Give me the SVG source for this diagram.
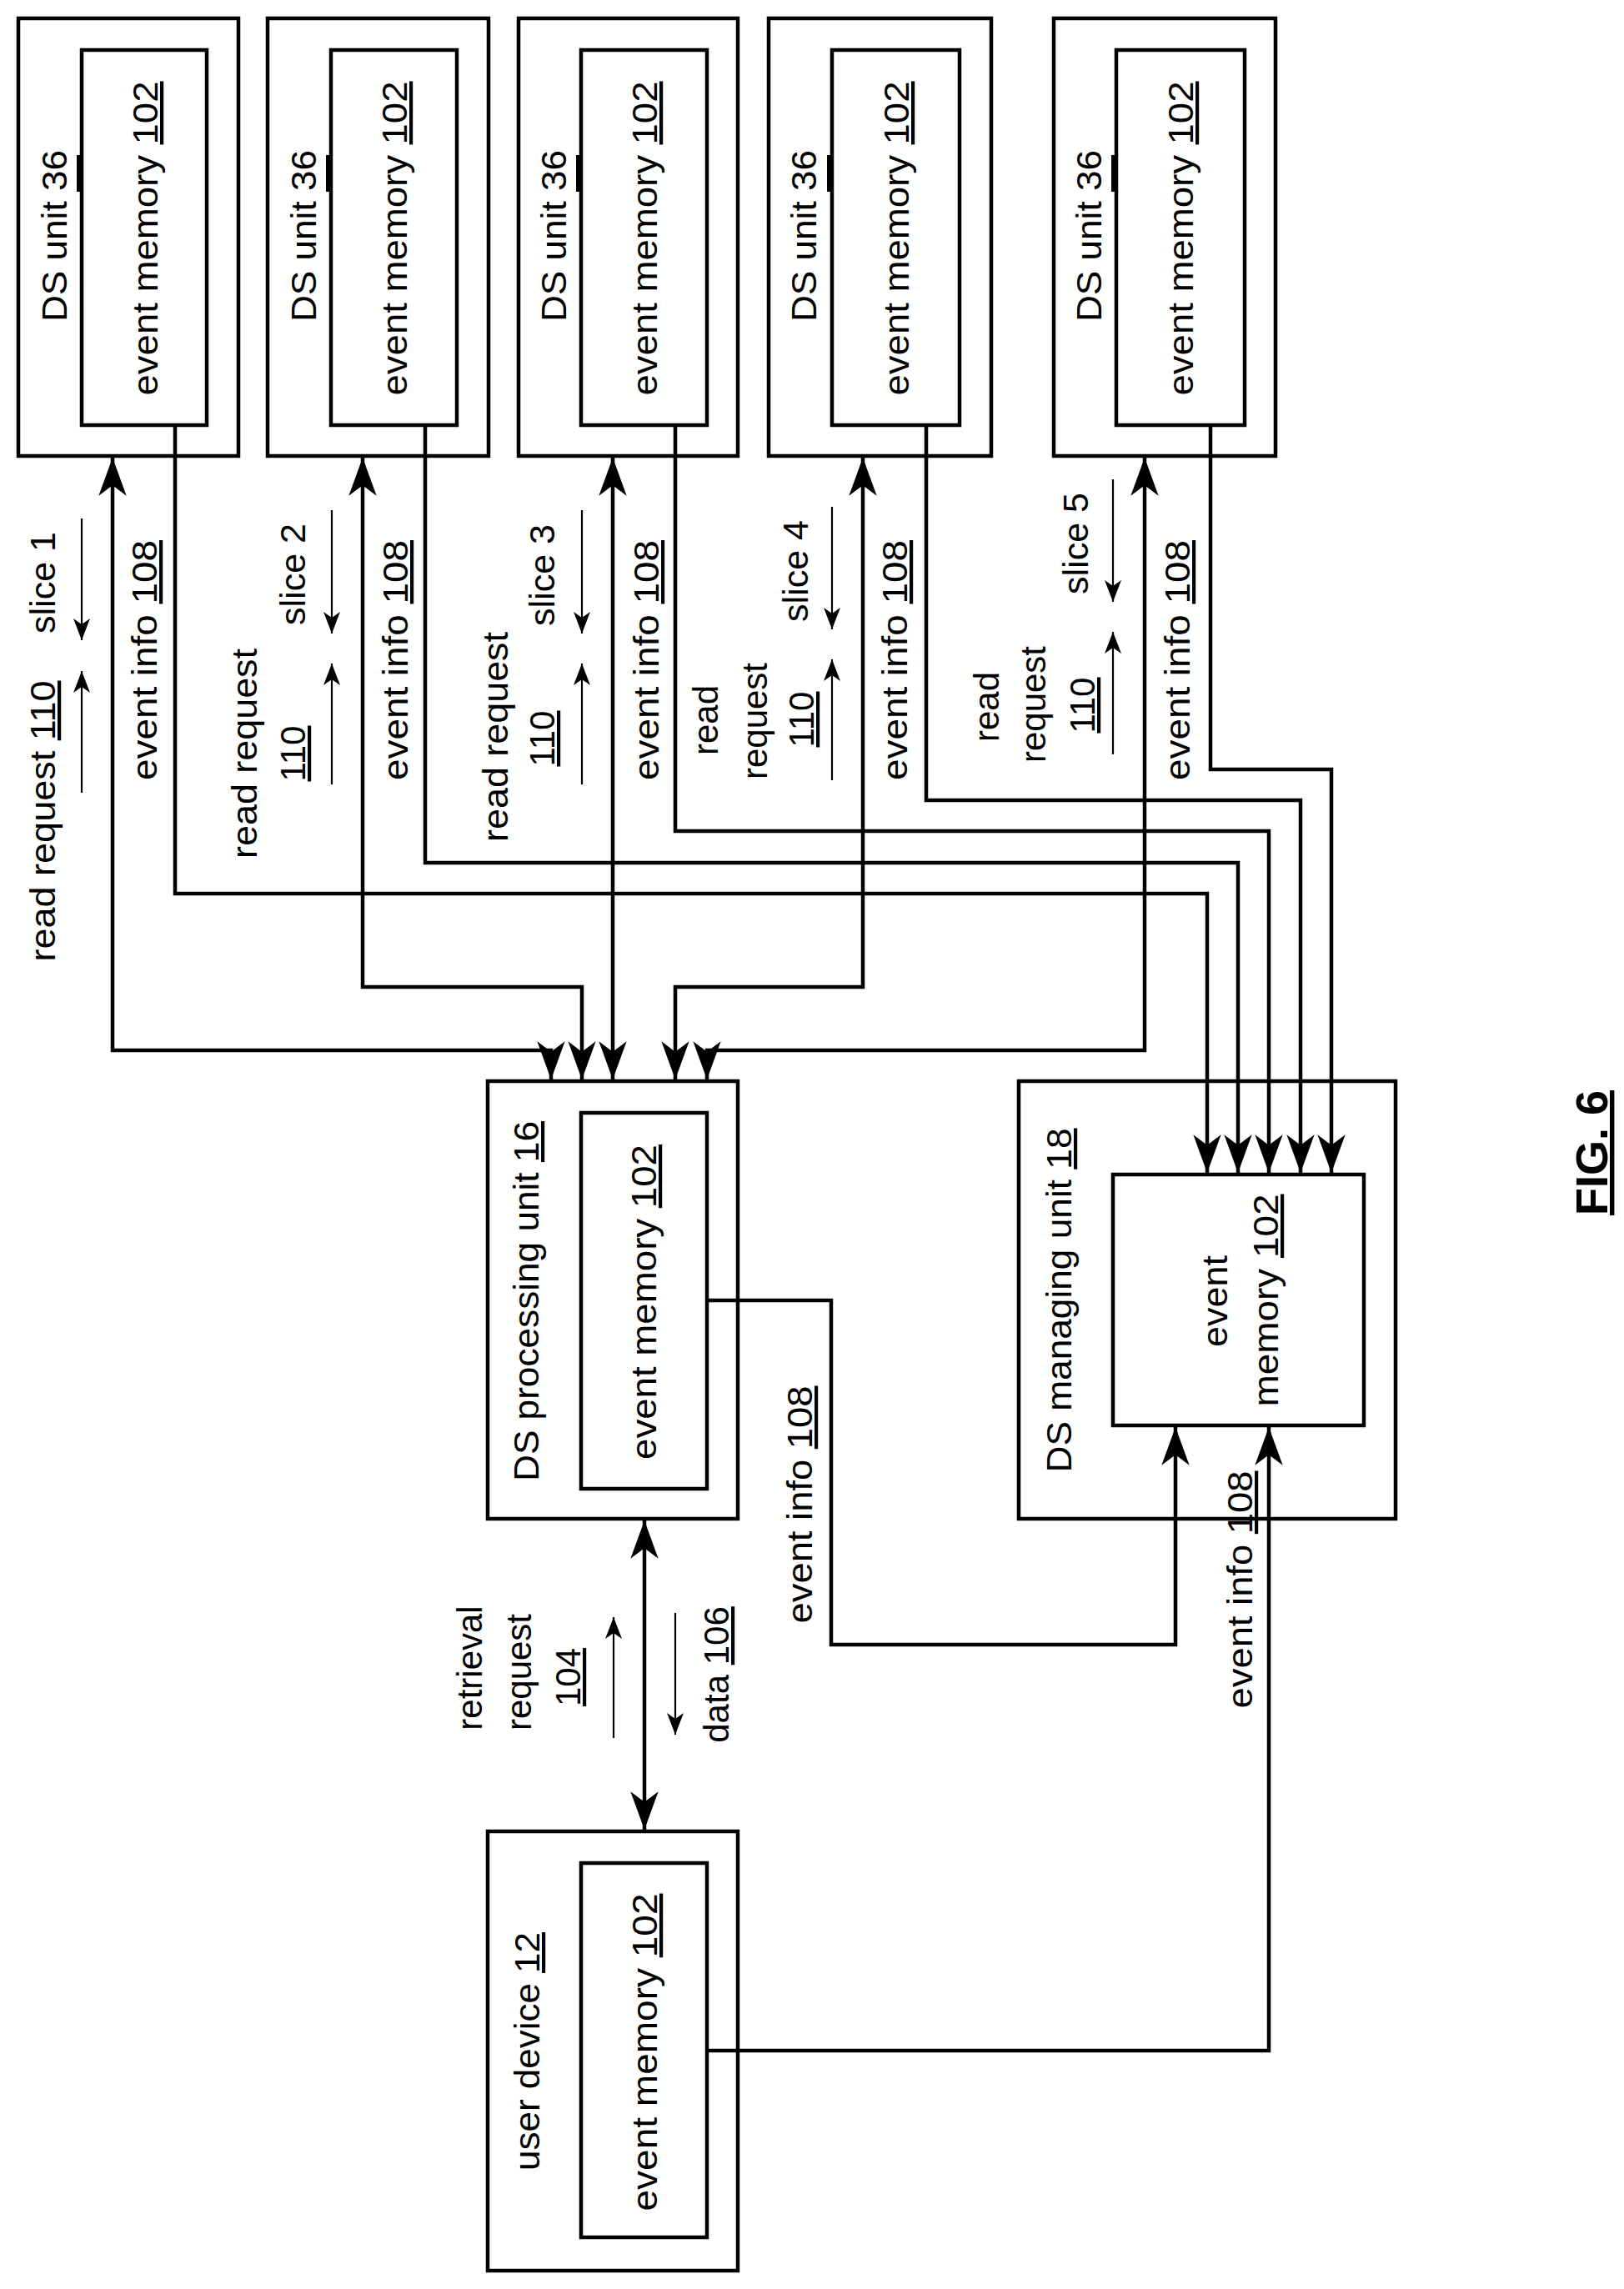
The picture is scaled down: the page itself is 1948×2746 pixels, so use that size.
<svg xmlns="http://www.w3.org/2000/svg" width="1948" height="2746" viewBox="0 0 1948 2746">
<defs>
<style>
.box{fill:none;stroke:#000;stroke-width:4.5}
.ln{fill:none;stroke:#000;stroke-width:4.5}
.thin{fill:none;stroke:#000;stroke-width:2.2}
text{font-family:"Liberation Sans","Open Sans",sans-serif;font-size:42px;fill:#000;text-anchor:middle}
.u{text-decoration:underline}
</style>
<marker id="ah" markerUnits="userSpaceOnUse" markerWidth="50" markerHeight="40" viewBox="-46 -18 48 36" refX="0" refY="0" orient="auto-start-reverse">
<path d="M0,0 L-44,-16 L-32,0 L-44,16 Z" fill="#000"/>
</marker>
<marker id="sh" markerUnits="userSpaceOnUse" markerWidth="30" markerHeight="24" viewBox="-28 -12 30 24" refX="0" refY="0" orient="auto">
<path d="M0,0 L-26,-10 L-19,0 L-26,10 Z" fill="#000"/>
</marker>
</defs>
<rect width="1948" height="2746" fill="#fff"/>

<g id="ds1">
<rect class="box" x="22" y="22" width="264" height="525"/>
<rect class="box" x="98" y="60" width="150" height="450"/>
<rect x="92" y="186" width="6" height="44" fill="#000"/>
<text transform="translate(80,283) rotate(-90)" textLength="206" lengthAdjust="spacingAndGlyphs">DS unit 36</text>
<text transform="translate(189,286) rotate(-90)" textLength="377" lengthAdjust="spacingAndGlyphs">event memory <tspan class="u">102</tspan></text>
</g>
<g id="ds2">
<rect class="box" x="321" y="22" width="265" height="525"/>
<rect class="box" x="397" y="60" width="151" height="450"/>
<rect x="391" y="186" width="6" height="44" fill="#000"/>
<text transform="translate(379,283) rotate(-90)" textLength="206" lengthAdjust="spacingAndGlyphs">DS unit 36</text>
<text transform="translate(488,286) rotate(-90)" textLength="377" lengthAdjust="spacingAndGlyphs">event memory <tspan class="u">102</tspan></text>
</g>
<g id="ds3">
<rect class="box" x="622" y="22" width="263" height="525"/>
<rect class="box" x="697" y="60" width="151" height="450"/>
<rect x="691" y="186" width="6" height="44" fill="#000"/>
<text transform="translate(679,283) rotate(-90)" textLength="206" lengthAdjust="spacingAndGlyphs">DS unit 36</text>
<text transform="translate(788,286) rotate(-90)" textLength="377" lengthAdjust="spacingAndGlyphs">event memory <tspan class="u">102</tspan></text>
</g>
<g id="ds4">
<rect class="box" x="922" y="22" width="267" height="525"/>
<rect class="box" x="998" y="60" width="153" height="450"/>
<rect x="992" y="186" width="6" height="44" fill="#000"/>
<text transform="translate(979,283) rotate(-90)" textLength="206" lengthAdjust="spacingAndGlyphs">DS unit 36</text>
<text transform="translate(1090,286) rotate(-90)" textLength="377" lengthAdjust="spacingAndGlyphs">event memory <tspan class="u">102</tspan></text>
</g>
<g id="ds5">
<rect class="box" x="1264" y="22" width="266" height="525"/>
<rect class="box" x="1339" y="60" width="154" height="450"/>
<rect x="1333" y="186" width="6" height="44" fill="#000"/>
<text transform="translate(1321,283) rotate(-90)" textLength="206" lengthAdjust="spacingAndGlyphs">DS unit 36</text>
<text transform="translate(1431,286) rotate(-90)" textLength="377" lengthAdjust="spacingAndGlyphs">event memory <tspan class="u">102</tspan></text>
</g>

<g id="processing">
<rect class="box" x="585" y="1297" width="300" height="525"/>
<rect class="box" x="697" y="1335" width="151" height="451"/>
<text transform="translate(646,1561) rotate(-90)" textLength="432" lengthAdjust="spacingAndGlyphs">DS processing unit <tspan class="u">16</tspan></text>
<text transform="translate(787,1562) rotate(-90)" textLength="378" lengthAdjust="spacingAndGlyphs">event memory <tspan class="u">102</tspan></text>
</g>
<g id="managing">
<rect class="box" x="1222" y="1297" width="452" height="525"/>
<rect class="box" x="1335" y="1409" width="301" height="301"/>
<text transform="translate(1285,1560) rotate(-90)" textLength="413" lengthAdjust="spacingAndGlyphs">DS managing unit <tspan class="u">18</tspan></text>
<text transform="translate(1472,1561) rotate(-90)" textLength="110" lengthAdjust="spacingAndGlyphs">event</text>
<text transform="translate(1533,1560) rotate(-90)" textLength="255" lengthAdjust="spacingAndGlyphs">memory <tspan class="u">102</tspan></text>
</g>
<g id="user">
<rect class="box" x="585" y="2197" width="300" height="527"/>
<rect class="box" x="697" y="2235" width="151" height="449"/>
<text transform="translate(647,2461) rotate(-90)" textLength="286" lengthAdjust="spacingAndGlyphs">user device <tspan class="u">12</tspan></text>
<text transform="translate(788,2462) rotate(-90)" textLength="381" lengthAdjust="spacingAndGlyphs">event memory <tspan class="u">102</tspan></text>
</g>

<g id="connectors">
<polyline class="ln" points="135,549 135,1260 661,1260 661,1295" marker-start="url(#ah)" marker-end="url(#ah)"/>
<polyline class="ln" points="435,549 435,1184 698,1184 698,1295" marker-start="url(#ah)" marker-end="url(#ah)"/>
<polyline class="ln" points="735,549 735,1295" marker-start="url(#ah)" marker-end="url(#ah)"/>
<polyline class="ln" points="1035,549 1035,1184 810,1184 810,1295" marker-start="url(#ah)" marker-end="url(#ah)"/>
<polyline class="ln" points="1373,549 1373,1260 848,1260 848,1295" marker-start="url(#ah)" marker-end="url(#ah)"/>
<polyline class="ln" points="210,510 210,1072 1448,1072 1448,1407" marker-end="url(#ah)"/>
<polyline class="ln" points="510,510 510,1035 1485,1035 1485,1407" marker-end="url(#ah)"/>
<polyline class="ln" points="810,510 810,997 1522,997 1522,1407" marker-end="url(#ah)"/>
<polyline class="ln" points="1111,510 1111,960 1560,960 1560,1407" marker-end="url(#ah)"/>
<polyline class="ln" points="1452,510 1452,923 1597,923 1597,1407" marker-end="url(#ah)"/>
<polyline class="ln" points="848,1560 997,1560 997,1973 1410,1973 1410,1712" marker-end="url(#ah)"/>
<polyline class="ln" points="848,2460 1522,2460 1522,1712" marker-end="url(#ah)"/>
<line class="ln" x1="773" y1="1824" x2="773" y2="2195" marker-start="url(#ah)" marker-end="url(#ah)"/>
<line class="thin" x1="98" y1="951" x2="98" y2="805" marker-end="url(#sh)"/>
<line class="thin" x1="98" y1="622" x2="98" y2="768" marker-end="url(#sh)"/>
<line class="thin" x1="398" y1="941" x2="398" y2="796" marker-end="url(#sh)"/>
<line class="thin" x1="398" y1="612" x2="398" y2="760" marker-end="url(#sh)"/>
<line class="thin" x1="698" y1="941" x2="698" y2="796" marker-end="url(#sh)"/>
<line class="thin" x1="698" y1="612" x2="698" y2="760" marker-end="url(#sh)"/>
<line class="thin" x1="998" y1="936" x2="998" y2="791" marker-end="url(#sh)"/>
<line class="thin" x1="998" y1="608" x2="998" y2="755" marker-end="url(#sh)"/>
<line class="thin" x1="1335" y1="905" x2="1335" y2="758" marker-end="url(#sh)"/>
<line class="thin" x1="1335" y1="575" x2="1335" y2="722" marker-end="url(#sh)"/>
<line class="thin" x1="736" y1="2085" x2="736" y2="1940" marker-end="url(#sh)"/>
<line class="thin" x1="810" y1="1935" x2="810" y2="2081" marker-end="url(#sh)"/>
</g>

<g id="labels">
<text transform="translate(66,985) rotate(-90)" textLength="337" lengthAdjust="spacingAndGlyphs">read request <tspan class="u">110</tspan></text>
<text transform="translate(66,699) rotate(-90)" textLength="122" lengthAdjust="spacingAndGlyphs">slice 1</text>
<text transform="translate(188,792) rotate(-90)" textLength="288" lengthAdjust="spacingAndGlyphs">event info <tspan class="u">108</tspan></text>

<text transform="translate(308,904) rotate(-90)" textLength="252" lengthAdjust="spacingAndGlyphs">read request</text>
<text transform="translate(366,904) rotate(-90)" class="u">110</text>
<text transform="translate(366,689) rotate(-90)" textLength="122" lengthAdjust="spacingAndGlyphs">slice 2</text>
<text transform="translate(489,792) rotate(-90)" textLength="288" lengthAdjust="spacingAndGlyphs">event info <tspan class="u">108</tspan></text>

<text transform="translate(609,884) rotate(-90)" textLength="252" lengthAdjust="spacingAndGlyphs">read request</text>
<text transform="translate(665,886) rotate(-90)" class="u">110</text>
<text transform="translate(665,690) rotate(-90)" textLength="122" lengthAdjust="spacingAndGlyphs">slice 3</text>
<text transform="translate(790,792) rotate(-90)" textLength="288" lengthAdjust="spacingAndGlyphs">event info <tspan class="u">108</tspan></text>

<text transform="translate(861,864) rotate(-90)">read</text>
<text transform="translate(920,865) rotate(-90)">request</text>
<text transform="translate(976,863) rotate(-90)" class="u">110</text>
<text transform="translate(969,685) rotate(-90)" textLength="122" lengthAdjust="spacingAndGlyphs">slice 4</text>
<text transform="translate(1088,792) rotate(-90)" textLength="288" lengthAdjust="spacingAndGlyphs">event info <tspan class="u">108</tspan></text>

<text transform="translate(1198,848) rotate(-90)">read</text>
<text transform="translate(1254,845) rotate(-90)">request</text>
<text transform="translate(1313,846) rotate(-90)" class="u">110</text>
<text transform="translate(1305,652) rotate(-90)" textLength="122" lengthAdjust="spacingAndGlyphs">slice 5</text>
<text transform="translate(1427,792) rotate(-90)" textLength="288" lengthAdjust="spacingAndGlyphs">event info <tspan class="u">108</tspan></text>

<text transform="translate(974,1805) rotate(-90)" textLength="285" lengthAdjust="spacingAndGlyphs">event info <tspan class="u">108</tspan></text>
<text transform="translate(1502,1907) rotate(-90)" textLength="285" lengthAdjust="spacingAndGlyphs">event info <tspan class="u">108</tspan></text>
<text transform="translate(578,2001) rotate(-90)">retrieval</text>
<text transform="translate(637,2006) rotate(-90)">request</text>
<text transform="translate(696,2012) rotate(-90)" class="u">104</text>
<text transform="translate(874,2009) rotate(-90)">data <tspan class="u">106</tspan></text>
<text transform="translate(1928,1383) rotate(-90)" style="font-weight:bold;font-size:54px" class="u">FIG. 6</text>
</g>
</svg>
